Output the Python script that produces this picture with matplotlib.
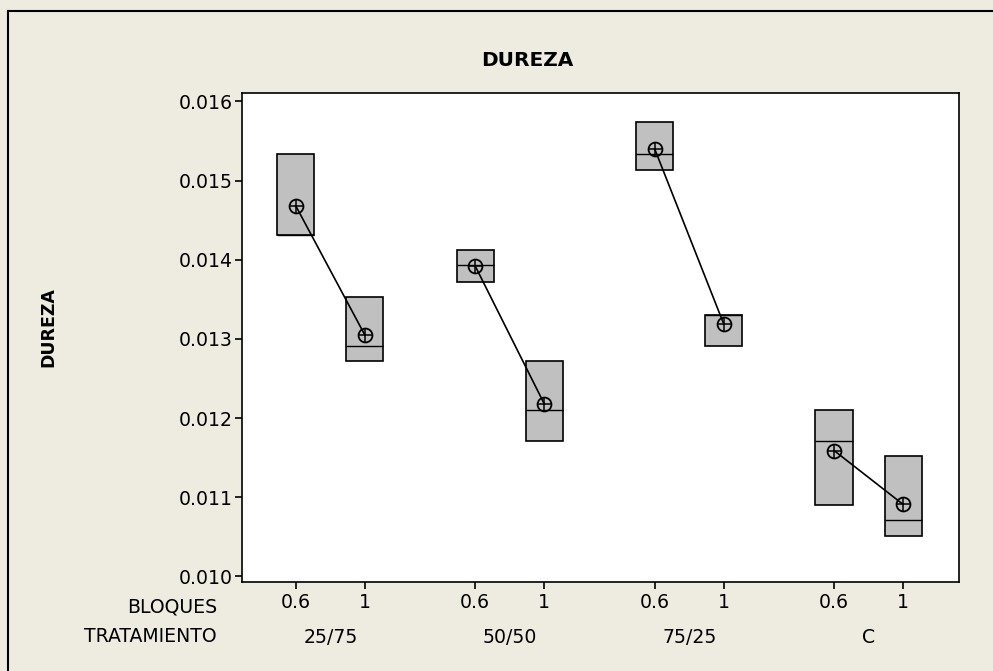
import numpy as np
import matplotlib.pyplot as plt
from matplotlib.lines import Line2D
from matplotlib.transforms import blended_transform_factory

plt.rcParams['font.family'] = ['DejaVu Sans']

tratamientos = ['25/75', '50/50', '75/25', 'C']
bloques = ['0.6', '1']

# box statistics per (tratamiento, bloque): min/Q1, median, max/Q3, mean
q1 = [0.01431, 0.01272, 0.01372, 0.01171, 0.01513, 0.01291, 0.01090, 0.01051]
med = [0.01431, 0.01291, 0.01393, 0.01210, 0.01533, 0.01330, 0.01171, 0.01071]
q3 = [0.01533, 0.01353, 0.01412, 0.01272, 0.01574, 0.01330, 0.01210, 0.01152]
mean = [0.01468, 0.01305, 0.01392, 0.01218, 0.01540, 0.01319, 0.01159, 0.01091]

bg = '#eeebe1'
fs = 13.6
fig = plt.figure(figsize=(9.93, 6.71), dpi=100, facecolor=bg)
ax = fig.add_axes([0.2437, 0.1326, 0.7221, 0.7292])

# positions: two blocks per treatment, gap between treatments
pos = []
for g in range(len(tratamientos)):
    for b in range(len(bloques)):
        pos.append(g * 2.6 + b)

stats = []
for i in range(len(pos)):
    stats.append(dict(med=med[i], q1=q1[i], q3=q3[i], whislo=q1[i], whishi=q3[i],
                      mean=mean[i], fliers=[]))

ax.bxp(stats, positions=pos, widths=0.54, patch_artist=True, showcaps=False,
       boxprops=dict(facecolor='#c0c0c0', edgecolor='black', linewidth=1.2),
       medianprops=dict(color='black', linewidth=1.0),
       whiskerprops=dict(color='black', linewidth=1.0))

# mean connect lines and symbols
for g in range(len(tratamientos)):
    xs = pos[2 * g:2 * g + 2]
    ys = mean[2 * g:2 * g + 2]
    ax.plot(xs, ys, color='black', lw=1.2, zorder=4)
    ax.plot(xs, ys, ls='none', marker='o', ms=10, mfc='none', mec='black', mew=1.3, zorder=5)
    ax.plot(xs, ys, ls='none', marker='+', ms=10, mec='black', mew=1.1, zorder=5)

ax.set_xlim(-0.78, 9.61)
ax.set_ylim(0.00993, 0.01611)
ax.set_yticks([0.010, 0.011, 0.012, 0.013, 0.014, 0.015, 0.016])
ax.set_yticklabels(['0.010', '0.011', '0.012', '0.013', '0.014', '0.015', '0.016'])
ax.set_xticks(pos)
ax.set_xticklabels(bloques * len(tratamientos))
ax.tick_params(axis='both', labelsize=fs, length=5, width=1.2, colors='black')
ax.tick_params(axis='x', pad=3)
ax.tick_params(axis='y', pad=1.5)
for s in ax.spines.values():
    s.set_linewidth(1.2)
    s.set_color('black')

tr = blended_transform_factory(ax.transData, ax.transAxes)
for g, t in enumerate(tratamientos):
    ax.text((pos[2 * g] + pos[2 * g + 1]) / 2, -0.1124, t, transform=tr,
            ha='center', va='center', fontsize=fs)

fig.text(217 / 993, 1 - 607 / 671, 'BLOQUES', ha='right', va='center', fontsize=fs)
fig.text(217 / 993, 1 - 637 / 671, 'TRATAMIENTO', ha='right', va='center', fontsize=fs)

fig.text(527 / 993, 1 - 60 / 671, 'DUREZA', ha='center', va='center',
         fontsize=14.5, fontweight='bold')
fig.text(48 / 993, 1 - 327 / 671, 'DUREZA', ha='center', va='center',
         rotation=90, fontsize=12.5, fontweight='bold')

# outer frame (left and top edges)
fig.add_artist(Line2D([8 / 993, 8 / 993], [0, 1 - 11 / 671], transform=fig.transFigure,
                      color='black', lw=1.5))
fig.add_artist(Line2D([8 / 993, 1], [1 - 11 / 671, 1 - 11 / 671], transform=fig.transFigure,
                      color='black', lw=1.5))

fig.savefig('out.png', dpi=100, facecolor=bg)
